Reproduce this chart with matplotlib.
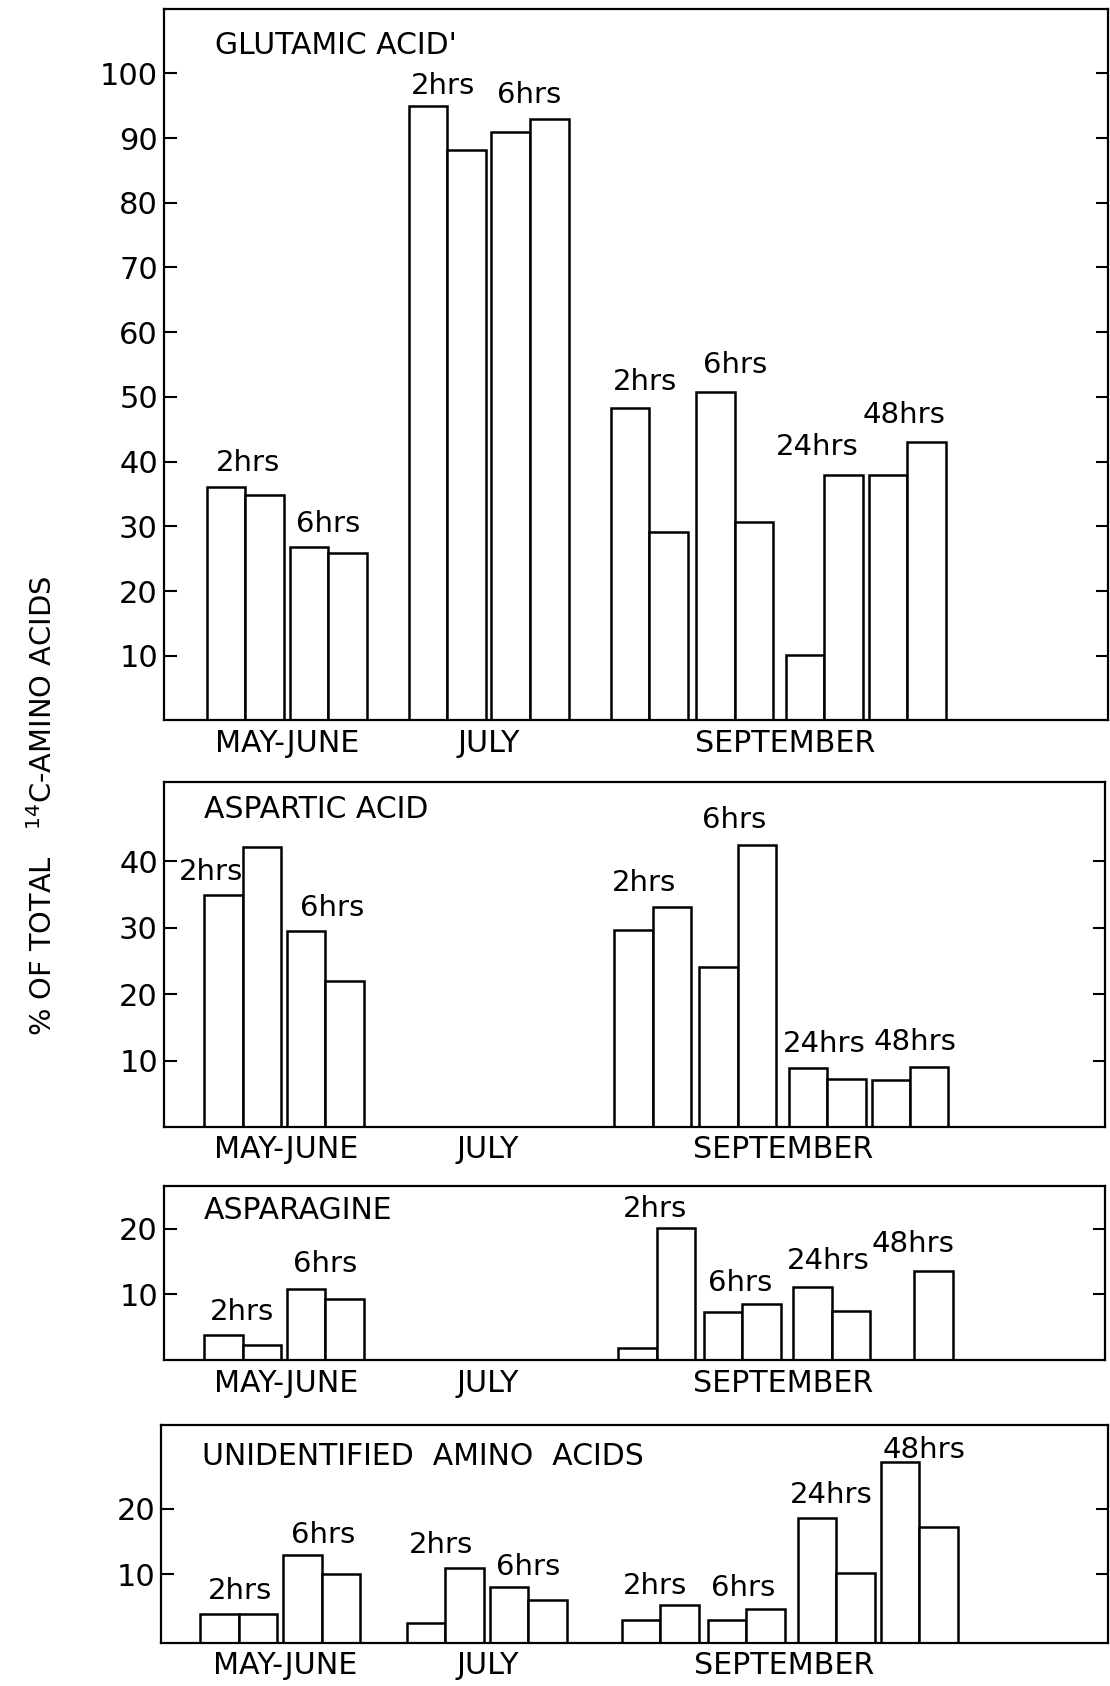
import matplotlib
matplotlib.use("Agg")
import matplotlib.pyplot as plt

# ---- data (% of total 14C in amino acids) ----
groups = ["MAY-JUNE", "JULY", "SEPTEMBER"]

glutamic_mj = [36.1, 34.8, 26.8, 25.9]
glutamic_jul = [94.9, 88.1, 91.0, 92.9]
glutamic_sep = [48.3, 29.1, 50.7, 30.6, 10.1, 37.9, 38.0, 43.0]

aspartic_mj = [34.9, 42.1, 29.5, 22.0]
aspartic_jul = []
aspartic_sep = [29.6, 33.1, 24.1, 42.5, 8.8, 7.2, 7.0, 9.0]

asparagine_mj = [3.9, 2.3, 10.8, 9.3]
asparagine_jul = []
asparagine_sep = [1.9, 20.1, 7.3, 8.5, 11.2, 7.5, None, 13.6]

unident_mj = [4.0, 4.0, 12.9, 10.0]
unident_jul = [2.6, 11.0, 8.1, 6.0]
unident_sep = [3.0, 5.25, 3.0, 4.75, 18.5, 10.25, 27.1, 17.25]

# ---- layout ----
font = "DejaVu Sans"
plt.rcParams["mathtext.fontset"] = "custom"
plt.rcParams["mathtext.rm"] = font

pair_offsets = [[0, 2.15], [0, 2.15], [0, 2.22, 4.55, 6.7]]
group_centers = [3.2, 8.45, 16.12]

panels = [
    dict(title="GLUTAMIC ACID'", data=[glutamic_mj, glutamic_jul, glutamic_sep],
         rect=[0.1473, 0.5727, 0.8507, 0.4222], ylim=(0, 110), starts=[1.12, 6.36, 11.6],
         yticks=range(10, 101, 10), title_xy=(1.34, 104.3),
         labels=[(2.18, 39.8, "2hrs"), (4.27, 30.3, "6hrs"),
                 (7.25, 98.0, "2hrs"), (9.49, 96.7, "6hrs"),
                 (12.5, 52.3, "2hrs"), (14.84, 55.0, "6hrs"),
                 (16.96, 42.2, "24hrs"), (19.2, 47.2, "48hrs")]),
    dict(title="ASPARTIC ACID", data=[aspartic_mj, aspartic_jul, aspartic_sep],
         rect=[0.1473, 0.3316, 0.848, 0.2048], ylim=(0, 52), starts=[1.06, 6.36, 11.73],
         yticks=[10, 20, 30, 40], title_xy=(1.06, 47.8),
         labels=[(1.23, 38.4, "2hrs"), (4.4, 33.0, "6hrs"),
                 (12.5, 36.8, "2hrs"), (14.84, 46.2, "6hrs"),
                 (17.2, 12.5, "24hrs"), (19.56, 12.8, "48hrs")]),
    dict(title="ASPARAGINE", data=[asparagine_mj, asparagine_jul, asparagine_sep],
         rect=[0.1473, 0.1932, 0.848, 0.1034], ylim=(0, 26.5), starts=[1.06, 6.36, 11.84],
         yticks=[10, 20], title_xy=(1.06, 22.8),
         labels=[(2.04, 7.4, "2hrs"), (4.2, 14.6, "6hrs"),
                 (12.78, 23.0, "2hrs"), (15.0, 11.8, "6hrs"),
                 (17.3, 15.1, "24hrs"), (19.5, 17.7, "48hrs")]),
    dict(title="UNIDENTIFIED  AMINO  ACIDS", data=[unident_mj, unident_jul, unident_sep],
         rect=[0.1453, 0.0255, 0.8527, 0.1295], ylim=(-0.5, 32.8), starts=[1.0, 6.35, 11.92],
         yticks=[10, 20], title_xy=(1.06, 27.9),
         labels=[(2.04, 7.4, "2hrs"), (4.2, 15.9, "6hrs"),
                 (7.25, 14.4, "2hrs"), (9.49, 11.1, "6hrs"),
                 (12.78, 8.2, "2hrs"), (15.07, 7.9, "6hrs"),
                 (17.35, 22.1, "24hrs"), (19.75, 29.0, "48hrs")]),
]

fig = plt.figure(figsize=(11.1, 16.86), dpi=100)

for p in panels:
    ax = fig.add_axes(p["rect"])
    base = min(p["ylim"][0], 0)
    for g, vals in enumerate(p["data"]):
        xs, hs = [], []
        for i, v in enumerate(vals):
            if v is None:
                continue
            xs.append(p["starts"][g] + pair_offsets[g][i // 2] + (i % 2) + 0.5)
            hs.append(v - base)
        ax.bar(xs, hs, width=1.0, bottom=base,
               color="white", edgecolor="black", linewidth=1.8)
    ax.set_xlim(0, 24.5)
    ax.set_ylim(*p["ylim"])
    ax.set_yticks(list(p["yticks"]))
    ax.set_yticklabels([str(t) for t in p["yticks"]], fontsize=22, family=font)
    ax.tick_params(axis="y", which="both", direction="in", length=9, width=1.5,
                   left=True, right=True, pad=4)
    ax.set_xticks(group_centers)
    ax.set_xticklabels(groups, fontsize=21.7, family=font)
    ax.tick_params(axis="x", length=0, pad=6)
    for s in ax.spines.values():
        s.set_linewidth(1.6)
    ax.text(*p["title_xy"], p["title"], fontsize=21.5, family=font,
            ha="left", va="center")
    for x, y, t in p["labels"]:
        ax.text(x, y, t, fontsize=21, family=font, ha="center", va="center")

fig.text(0.039, 0.522, r"% OF TOTAL   $^{\mathrm{14}}$C-AMINO ACIDS", rotation=90,
         fontsize=20.8, family=font, ha="center", va="center")

fig.savefig("out.png", dpi=100, facecolor="white")
